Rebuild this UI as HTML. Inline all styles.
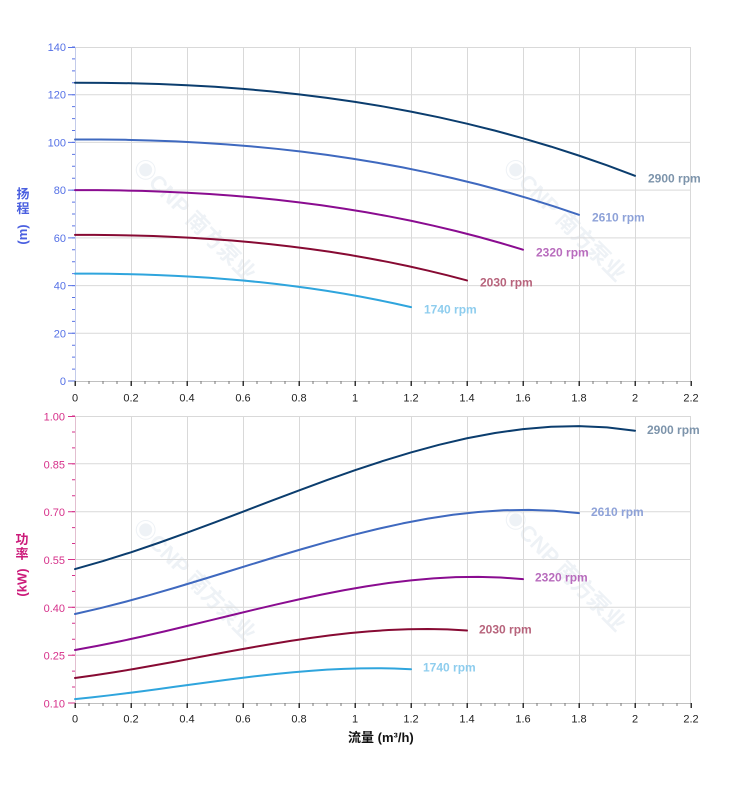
<!DOCTYPE html>
<html><head><meta charset="utf-8"><style>
html,body{margin:0;padding:0;background:#fff;}
svg{display:block;}
text{font-family:"Liberation Sans","Noto Sans CJK SC",sans-serif;}
</style></head><body>
<svg width="752" height="797" viewBox="0 0 752 797" xmlns="http://www.w3.org/2000/svg">
<rect width="752" height="797" fill="#fff"/>

<!-- watermarks -->
<g fill="#eef2f6" font-weight="bold" font-size="22">
<text transform="translate(132,168) rotate(45)">◉CNP 南方泵业</text>
<text transform="translate(502,168) rotate(45)">◉CNP 南方泵业</text>
<text transform="translate(132,528) rotate(45)">◉CNP 南方泵业</text>
<text transform="translate(502,518) rotate(45)">◉CNP 南方泵业</text>
</g>

<!-- ===== TOP CHART grid ===== -->
<g stroke="#d9d9d9" stroke-width="1" fill="none">
<path d="M75.5 47V381M131.5 47V381M187.5 47V381M243.5 47V381M299.5 47V381M355.5 47V381M411.5 47V381M467.5 47V381M523.5 47V381M579.5 47V381M635.5 47V381M690.5 47V381"/>
<path d="M75 47.5H691M75 94.7H691M75 142.4H691M75 190.1H691M75 237.9H691M75 285.6H691M75 333.3H691"/>
</g>
<line x1="75.5" y1="47" x2="75.5" y2="381" stroke="#c3cbea" stroke-width="1"/>
<line x1="75" y1="381.5" x2="691" y2="381.5" stroke="#c0c0c0" stroke-width="1"/>
<line x1="73.5" y1="47" x2="73.5" y2="382" stroke="#5a74e6" stroke-width="3" stroke-dasharray="1 10.929" transform="translate(0,-0.5)"/>
<g stroke="#5a74e6" stroke-width="1">
<path d="M68 47.5H75M68 94.7H75M68 142.4H75M68 190.1H75M68 237.9H75M68 285.6H75M68 333.3H75M68 381H75"/>
</g>
<line x1="74.5" y1="382.5" x2="692" y2="382.5" stroke="#777" stroke-width="3" stroke-dasharray="1 13"/>
<line x1="74.5" y1="383.5" x2="692" y2="383.5" stroke="#333" stroke-width="5" stroke-dasharray="1.5 54.5"/>
<g fill="#5470e6" font-size="11" text-anchor="end">
<text x="66" y="51">140</text>
<text x="66" y="98.7">120</text>
<text x="66" y="146.4">100</text>
<text x="66" y="194.1">80</text>
<text x="66" y="241.9">60</text>
<text x="66" y="289.6">40</text>
<text x="66" y="337.3">20</text>
<text x="66" y="385">0</text>
</g>
<g fill="#222" font-size="11" text-anchor="middle">
<text x="75" y="401.5">0</text><text x="131" y="401.5">0.2</text><text x="187" y="401.5">0.4</text><text x="243" y="401.5">0.6</text><text x="299" y="401.5">0.8</text><text x="355" y="401.5">1</text><text x="411" y="401.5">1.2</text><text x="467" y="401.5">1.4</text><text x="523" y="401.5">1.6</text><text x="579" y="401.5">1.8</text><text x="635" y="401.5">2</text><text x="691" y="401.5">2.2</text>
</g>
<g fill="#4a5fe0" font-size="13" font-weight="bold" text-anchor="middle">
<text x="23" y="198.5">扬</text>
<text x="23" y="213">程</text>
<text transform="translate(27,234.5) rotate(-90)">(m)</text>
</g>

<!-- head curves -->
<g fill="none" stroke-width="2" stroke-linejoin="round" stroke-linecap="round">
<path stroke="#0b3d6e" d="M75,82.79 L103,82.84 131,83.24 159,84.02 187,85.21 215,86.81 243,88.85 271,91.36 299,94.35 327,97.85 355,101.87 383,106.45 411,111.59 439,117.32 467,123.67 495,130.65 523,138.29 551,146.61 579,155.62 607,165.35 635,175.83"/>
<path stroke="#3f69bf" d="M75,139.45 L100.2,139.49 125.4,139.81 150.6,140.45 175.8,141.41 201,142.71 226.2,144.36 251.4,146.39 276.6,148.81 301.8,151.65 327,154.90 352.2,158.61 377.4,162.78 402.6,167.42 427.8,172.56 453,178.22 478.2,184.40 503.4,191.14 528.6,198.44 553.8,206.32 579,214.81"/>
<path stroke="#8a0c90" d="M75,190.15 L97.4,190.18 119.8,190.43 142.2,190.93 164.6,191.69 187,192.72 209.4,194.02 231.8,195.63 254.2,197.54 276.6,199.78 299,202.36 321.4,205.29 343.8,208.58 366.2,212.24 388.6,216.31 411,220.78 433.4,225.67 455.8,230.99 478.2,236.76 500.6,242.98 523,249.69"/>
<path stroke="#870a33" d="M75,234.88 L94.6,234.90 114.2,235.10 133.8,235.48 153.4,236.06 173,236.85 192.6,237.85 212.2,239.08 231.8,240.54 251.4,242.26 271,244.23 290.6,246.47 310.2,248.99 329.8,251.80 349.4,254.91 369,258.33 388.6,262.07 408.2,266.15 427.8,270.56 447.4,275.33 467,280.47"/>
<path stroke="#2fa5dd" d="M75,273.64 L91.8,273.66 108.6,273.81 125.4,274.09 142.2,274.52 159,275.09 175.8,275.83 192.6,276.73 209.4,277.81 226.2,279.07 243,280.51 259.8,282.16 276.6,284.01 293.4,286.08 310.2,288.36 327,290.87 343.8,293.62 360.6,296.62 377.4,299.86 394.2,303.37 411,307.14"/>
</g>
<g font-size="12" font-weight="bold">
<text x="648" y="182.5" fill="#7d94ab">2900 rpm</text>
<text x="592" y="221.5" fill="#8ea2d8">2610 rpm</text>
<text x="536" y="256.5" fill="#b86cbd">2320 rpm</text>
<text x="480" y="286.5" fill="#b7647c">2030 rpm</text>
<text x="424" y="313.5" fill="#8ecdee">1740 rpm</text>
</g>

<!-- ===== BOTTOM CHART grid ===== -->
<g stroke="#d9d9d9" stroke-width="1" fill="none">
<path d="M75.5 416V703M131.5 416V703M187.5 416V703M243.5 416V703M299.5 416V703M355.5 416V703M411.5 416V703M467.5 416V703M523.5 416V703M579.5 416V703M635.5 416V703M690.5 416V703"/>
<path d="M75 416.5H691M75 463.8H691M75 511.7H691M75 559.5H691M75 607.3H691M75 655.2H691"/>
</g>
<line x1="75.5" y1="416" x2="75.5" y2="703" stroke="#e2bfd0" stroke-width="1"/>
<line x1="75" y1="703.5" x2="691" y2="703.5" stroke="#c0c0c0" stroke-width="1"/>
<line x1="73.5" y1="416" x2="73.5" y2="704" stroke="#d6308a" stroke-width="3" stroke-dasharray="1 14.944" transform="translate(0,-0.5)"/>
<g stroke="#d6308a" stroke-width="1">
<path d="M68 416.5H75M68 463.8H75M68 511.7H75M68 559.5H75M68 607.3H75M68 655.2H75M68 703H75"/>
</g>
<line x1="74.5" y1="704.5" x2="692" y2="704.5" stroke="#777" stroke-width="3" stroke-dasharray="1 13"/>
<line x1="74.5" y1="705.5" x2="692" y2="705.5" stroke="#333" stroke-width="5" stroke-dasharray="1.5 54.5"/>
<g fill="#d6308a" font-size="11" text-anchor="end">
<text x="65" y="420.5">1.00</text>
<text x="65" y="468.3">0.85</text>
<text x="65" y="516.2">0.70</text>
<text x="65" y="564">0.55</text>
<text x="65" y="611.8">0.40</text>
<text x="65" y="659.7">0.25</text>
<text x="65" y="707.5">0.10</text>
</g>
<g fill="#222" font-size="11" text-anchor="middle">
<text x="75" y="722.5">0</text><text x="131" y="722.5">0.2</text><text x="187" y="722.5">0.4</text><text x="243" y="722.5">0.6</text><text x="299" y="722.5">0.8</text><text x="355" y="722.5">1</text><text x="411" y="722.5">1.2</text><text x="467" y="722.5">1.4</text><text x="523" y="722.5">1.6</text><text x="579" y="722.5">1.8</text><text x="635" y="722.5">2</text><text x="691" y="722.5">2.2</text>
</g>
<g fill="#cc1a7a" font-size="13" font-weight="bold" text-anchor="middle">
<text x="22" y="544">功</text>
<text x="22" y="558.5">率</text>
<text transform="translate(26.5,582.5) rotate(-90)">(kW)</text>
</g>
<text x="348" y="742" fill="#111" font-size="13" font-weight="bold">流量 (m³/h)</text>

<!-- power curves -->
<g fill="none" stroke-width="2" stroke-linejoin="round" stroke-linecap="round">
<path stroke="#0b3d6e" d="M75,569.07 L103,561.09 131,552.27 159,542.75 187,532.70 215,522.27 243,511.64 271,500.95 299,490.38 327,480.08 355,470.21 383,460.93 411,452.42 439,444.81 467,438.28 495,432.99 523,429.10 551,426.77 579,426.15 607,427.42 635,430.73"/>
<path stroke="#3f69bf" d="M75,614.01 L100.2,608.19 125.4,601.76 150.6,594.82 175.8,587.49 201,579.89 226.2,572.14 251.4,564.35 276.6,556.64 301.8,549.13 327,541.94 352.2,535.17 377.4,528.97 402.6,523.42 427.8,518.66 453,514.80 478.2,511.97 503.4,510.27 528.6,509.82 553.8,510.74 579,513.16"/>
<path stroke="#8a0c90" d="M75,649.99 L97.4,645.90 119.8,641.39 142.2,636.51 164.6,631.37 187,626.03 209.4,620.59 231.8,615.11 254.2,609.70 276.6,604.43 299,599.37 321.4,594.62 343.8,590.27 366.2,586.37 388.6,583.03 411,580.32 433.4,578.33 455.8,577.13 478.2,576.82 500.6,577.47 523,579.16"/>
<path stroke="#870a33" d="M75,678.01 L94.6,675.28 114.2,672.25 133.8,668.99 153.4,665.54 173,661.96 192.6,658.32 212.2,654.65 231.8,651.02 251.4,647.49 271,644.10 290.6,640.92 310.2,638.00 329.8,635.39 349.4,633.15 369,631.34 388.6,630.00 408.2,629.20 427.8,628.99 447.4,629.43 467,630.56"/>
<path stroke="#2fa5dd" d="M75,699.07 L91.8,697.35 108.6,695.44 125.4,693.39 142.2,691.22 159,688.96 175.8,686.67 192.6,684.36 209.4,682.08 226.2,679.85 243,677.72 259.8,675.71 276.6,673.88 293.4,672.23 310.2,670.82 327,669.68 343.8,668.84 360.6,668.34 377.4,668.20 394.2,668.48 411,669.19"/>
</g>
<g font-size="12" font-weight="bold">
<text x="647" y="434" fill="#7d94ab">2900 rpm</text>
<text x="591" y="516" fill="#8ea2d8">2610 rpm</text>
<text x="535" y="581.5" fill="#b86cbd">2320 rpm</text>
<text x="479" y="633.5" fill="#b7647c">2030 rpm</text>
<text x="423" y="671.5" fill="#8ecdee">1740 rpm</text>
</g>
</svg>
</body></html>
